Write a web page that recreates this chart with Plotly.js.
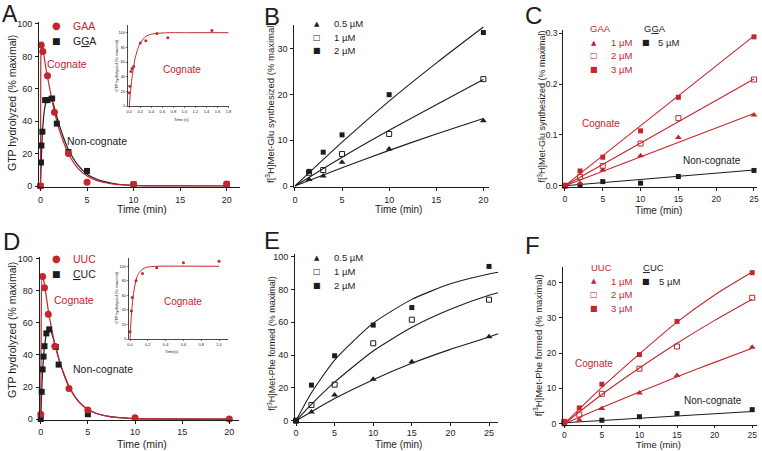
<!DOCTYPE html>
<html><head><meta charset="utf-8">
<script src="https://cdn.plot.ly/plotly-3.0.1.min.js"></script>
<style>html,body{margin:0;padding:0;background:#fff;}#chart{width:762px;height:451px;}</style>
</head><body><div id="chart"></div>
<script>
// ================= DATA =================
// Panel A: GTP hydrolysis, GAA (cognate) vs GGA (non-cognate)
const aT_cog = [0, 0.08, 0.25, 0.75, 1.5, 3, 5, 10, 20];
const aY_cog = [0, 87, 83, 68, 45.5, 20, 2.3, 1, 1.2];
const aT_non = [0, 0.05, 0.1, 0.2, 0.5, 0.75, 1.25, 1.75, 3, 5, 10, 20];
const aY_non = [0, 14.5, 25, 33.5, 53, 53, 54, 38.5, 21, 9.3, 1, 1];
const aFitT_cog = [0, 0.03, 0.08, 0.15, 0.3, 0.6, 1, 1.5, 2, 3, 4, 5, 6, 7, 8, 10, 12, 20];
const aFitY_cog = [0, 70, 87, 88, 83, 72, 60, 46, 35, 20, 11, 6.2, 3.5, 2, 1, 0.3, 0.1, 0];
const aFitT_non = [0, 0.1, 0.2, 0.4, 0.6, 0.8, 1, 1.3, 1.6, 2, 2.5, 3, 4, 5, 6, 7, 8, 10, 12, 20];
const aFitY_non = [0, 18, 32, 46, 52, 54.5, 55, 52, 46, 38, 29.5, 22.5, 13, 7.3, 4.3, 2.5, 1.4, 0.4, 0.1, 0];
// Panel A inset (seconds)
const aiT = [0, 0.01, 0.03, 0.05, 0.08, 0.2, 0.3, 0.5, 0.7, 1.5];
const aiY = [18, 27, 47, 51, 54, 86, 89, 99, 93, 103];
const aiFitT = [0, 0.02, 0.05, 0.1, 0.15, 0.2, 0.3, 0.4, 0.5, 0.7, 1, 1.8];
const aiFitY = [0, 18, 39, 63, 77, 86, 95, 98, 99, 100, 100, 100];

// Panel B: Met-Glu synthesized, non-cognate, concentrations
const bT = [1.5, 3, 5, 10, 20];
const b05 = [1.4, 2.2, 5.2, 8.1, 14.3];
const b1 = [2.9, 3.5, 7.0, 11.4, 23.4];
const b2 = [3.2, 7.4, 11.2, 20, 33.6];
const bFitT = [0, 5, 10, 15, 20];
const b05Fit = [0, 4, 7.8, 11.4, 14.8];
const b1Fit = [0, 6.3, 12.2, 17.8, 23.3];
const b2Fit = [0, 9.6, 18.6, 26.9, 34.8];

// Panel C
const cT = [0, 2, 5, 10, 15, 25];
const c1 = [0, 0.005, 0.031, 0.059, 0.095, 0.139];
const c2 = [0, 0.017, 0.039, 0.083, 0.133, 0.209];
const c3 = [0, 0.029, 0.056, 0.108, 0.174, 0.293];
const cNon = [0, 0.001, 0.008, 0.005, 0.018, 0.030];
const cFitT = [0, 25];
const c1Fit = [0, 0.142];
const c2Fit = [0, 0.210];
const c3Fit = [0, 0.295];
const cNonFit = [0, 0.031];

// Panel D: UUC (cognate) vs CUC (non-cognate)
const dT_cog = [0, 0.2, 0.4, 0.8, 1.5, 3, 5, 10, 20];
const dY_cog = [3, 89, 82, 65.5, 45.5, 19, 5.6, 0.8, 0];
const dT_non = [0, 0.1, 0.2, 0.3, 0.4, 0.6, 0.9, 1.6, 1.9, 5, 10, 20];
const dY_non = [0, 17, 31, 39, 45.5, 53.5, 56, 45, 34, 3, -1.5, -1.5];
const dFitT_cog = [0, 0.05, 0.15, 0.3, 0.5, 0.8, 1.2, 1.6, 2, 2.5, 3, 4, 5, 6, 7, 8, 10, 12, 20];
const dFitY_cog = [0, 60, 89, 87, 80, 68, 55, 44, 36, 27, 20, 11, 6, 3.3, 1.8, 1, 0.3, 0.1, 0];
const dFitT_non = [0, 0.1, 0.2, 0.4, 0.6, 0.8, 1, 1.3, 1.6, 2, 2.5, 3, 4, 5, 6, 8, 10, 20];
const dFitY_non = [0, 17, 30, 45, 53, 56.5, 56, 51, 45, 36, 27.5, 20.5, 11, 6, 3.3, 1, 0.3, 0];
// Panel D inset
const diT = [0, 0.015, 0.026, 0.067, 0.14, 0.3, 0.6, 1.0];
const diY = [10, 38.5, 57, 80, 90, 98, 105, 107];
const diFitT = [0, 0.01, 0.02, 0.04, 0.06, 0.08, 0.1, 0.13, 0.16, 0.2, 0.3, 1.0];
const diFitY = [0, 22, 40, 63, 77, 86, 91, 95, 97.5, 99, 100, 100];

// Panel E: Met-Phe formed, non-cognate
const eT = [0, 2, 5, 10, 15, 25];
const e05 = [0, 5.3, 15.6, 25.2, 36, 51.2];
const e1 = [0, 9.6, 22, 47.2, 61.6, 73.8];
const e2 = [0, 21.7, 39.6, 58.3, 69, 94.1];
const eFitT = [0, 2, 5, 10, 15, 20, 25, 26.2];
const e05Fit = [0, 5.5, 13.5, 25, 35, 43.5, 51, 53];
const e1Fit = [0, 10, 23.5, 42.5, 57, 68, 76.5, 78];
const e2Fit = [0, 17, 37, 59.5, 74, 83.5, 89.5, 90.5];

// Panel F
const fT = [0, 2, 5, 10, 15, 25];
const f1 = [0.5, 1.1, 4.3, 8.75, 13.7, 21.7];
const f2 = [0.5, 2.6, 8.5, 15.6, 21.9, 35.7];
const f3 = [0.7, 4.5, 11.2, 19.6, 29, 42.8];
const fNon = [0, -0.3, 1.0, 2.0, 2.9, 4.0];
const fFitT = [0, 5, 10, 15, 20, 25];
const f1Fit = [0, 4.6, 9, 13.3, 17.4, 21.4];
const f2Fit = [0, 8.3, 15.8, 22.8, 29.3, 35.3];
const f3Fit = [0, 10.3, 19.8, 28.8, 36.5, 43];
const fNonFitT = [0, 25];
const fNonFit = [0.3, 3.5];

// ================= STYLE / LAYOUT =================
const W = 762, H = 451;
const RED = '#c4262e', BLK = '#1e1c1c';
const FONT = 'Liberation Sans, Arial, sans-serif';

const layout = {
  width: W, height: H, margin: {l: 0, r: 0, t: 0, b: 0},
  paper_bgcolor: '#fff', plot_bgcolor: 'rgba(0,0,0,0)',
  showlegend: false, font: {family: FONT, color: BLK},
  annotations: []
};

function addAxes(i, xpx, ypx, xr, yr, xt, yt, small, tfs) {
  const fs = small ? 4 : (tfs || 9);
  const common = {showline: true, linecolor: BLK, linewidth: small ? 0.8 : 1,
    ticks: 'outside', ticklen: small ? 1.5 : 3, tickwidth: small ? 0.6 : 1, tickcolor: BLK,
    showgrid: false, zeroline: false, fixedrange: true,
    tickfont: {family: FONT, size: fs, color: BLK}, mirror: false};
  const k = i === 1 ? '' : String(i);
  layout['xaxis' + k] = Object.assign({}, common, {
    domain: [xpx[0] / W, xpx[1] / W], range: xr, anchor: 'y' + k,
    tickmode: 'array', tickvals: xt.v, ticktext: xt.t, ticklabelstandoff: small ? 0 : 1});
  layout['yaxis' + k] = Object.assign({}, common, {
    domain: [1 - ypx[1] / H, 1 - ypx[0] / H], range: yr, anchor: 'x' + k,
    tickmode: 'array', tickvals: yt.v, ticktext: yt.t, ticklabelstandoff: small ? 0 : 1});
}
function tk(vals, dec) { return {v: vals, t: vals.map(v => dec ? v.toFixed(dec) : String(v))}; }

// main panels
addAxes(1, [39, 240], [21.7, 186.7], [-0.16, 21.43], [-0.43, 101.4], tk([0,5,10,15,20]), tk([0,20,40,60,80,100]));
addAxes(2, [294.3, 489.3], [25, 186.7], [-0.07, 20.63], [-0.15, 35.25], tk([0,5,10,15,20]), tk([0,10,20,30]));
addAxes(3, [563.3, 756.7], [30, 186.5], [-0.22, 25.36], [-0.0016, 0.3065], tk([0,5,10,15,20,25]), tk([0,0.1,0.2,0.3],1), false, 8.5);
addAxes(4, [39.5, 239.3], [257.3, 420], [-0.13, 21.06], [-0.6, 101], tk([0,5,10,15,20]), tk([0,20,40,60,80,100]));
addAxes(5, [295, 498.3], [254.3, 421.5], [-0.13, 26.2], [-0.5, 101.5], tk([0,5,10,15,20,25]), tk([0,20,40,60,80,100]));
addAxes(6, [563, 756.7], [266.7, 424.5], [-0.17, 25.6], [-0.2, 44.5], tk([0,5,10,15,20,25]), tk([0,10,20,30,40]), false, 8.5);
// insets
addAxes(7, [128.3, 229], [25, 106], [-0.018, 1.81], [0, 110.5], tk([0,0.2,0.4,0.6,0.8,1.0,1.2,1.4,1.6,1.8],1), tk([0,20,40,60,80,100]), true);
addAxes(8, [129.3, 228.3], [257.7, 339], [-0.008, 1.104], [0, 111.8], tk([0,0.2,0.4,0.6,0.8,1.0],1), tk([0,20,40,60,80,100]), true);
layout.yaxis3.ticklabelstandoff = 0;
layout.xaxis4.ticklabelstandoff = 0;
layout.xaxis5.ticklabelstandoff = 0;
layout.xaxis6.ticklabelstandoff = 0;
layout.xaxis6.ticklen = 2.5;

// ================= TRACES =================
const traces = [];
function ax(i) { return i === 1 ? {xaxis: 'x', yaxis: 'y'} : {xaxis: 'x' + i, yaxis: 'y' + i}; }
function line(i, x, y, color, w) {
  traces.push(Object.assign({type: 'scatter', mode: 'lines', x, y, cliponaxis: false,
    line: {color, width: w || 1.1, shape: 'spline', smoothing: 0.6}, hoverinfo: 'skip'}, ax(i)));
}
function pts(i, x, y, color, symbol, size) {
  const open = symbol.indexOf('open') >= 0;
  traces.push(Object.assign({type: 'scatter', mode: 'markers', x, y, cliponaxis: false,
    marker: {color, symbol, size, line: {color, width: open ? 1 : 0}}}, ax(i)));
}

// A
line(1, aFitT_non, aFitY_non, BLK, 1.2);
line(1, aFitT_cog, aFitY_cog, RED, 1.2);
pts(1, aT_non, aY_non, BLK, 'square', 6);
pts(1, aT_cog, aY_cog, RED, 'circle', 7);
// A inset
line(7, aiFitT, aiFitY, RED, 1);
pts(7, aiT, aiY, RED, 'circle', 3);
// B
line(2, bFitT, b05Fit, BLK); line(2, bFitT, b1Fit, BLK); line(2, bFitT, b2Fit, BLK);
pts(2, bT, b05, BLK, 'triangle-up', 6);
pts(2, bT, b1, BLK, 'square-open', 5);
pts(2, bT, b2, BLK, 'square', 5);
// C
line(3, cFitT, cNonFit, BLK); line(3, cFitT, c1Fit, RED); line(3, cFitT, c2Fit, RED); line(3, cFitT, c3Fit, RED);
pts(3, cT, cNon, BLK, 'square', 5);
pts(3, cT, c1, RED, 'triangle-up', 6);
pts(3, cT, c2, RED, 'square-open', 5);
pts(3, cT, c3, RED, 'square', 5);
// D
line(4, dFitT_non, dFitY_non, BLK, 1.2);
line(4, dFitT_cog, dFitY_cog, RED, 1.2);
pts(4, dT_non, dY_non, BLK, 'square', 6);
pts(4, dT_cog, dY_cog, RED, 'circle', 7);
// D inset
line(8, diFitT, diFitY, RED, 1);
pts(8, diT, diY, RED, 'circle', 3);
// E
line(5, eFitT, e05Fit, BLK); line(5, eFitT, e1Fit, BLK); line(5, eFitT, e2Fit, BLK);
pts(5, eT, e05, BLK, 'triangle-up', 6);
pts(5, eT, e1, BLK, 'square-open', 5);
pts(5, eT, e2, BLK, 'square', 5);
// F
line(6, fNonFitT, fNonFit, BLK); line(6, fFitT, f1Fit, RED); line(6, fFitT, f2Fit, RED); line(6, fFitT, f3Fit, RED);
pts(6, fT, fNon, BLK, 'square', 5);
pts(6, fT, f1, RED, 'triangle-up', 6);
pts(6, fT, f2, RED, 'square-open', 5);
pts(6, fT, f3, RED, 'square', 5);

// ================= ANNOTATIONS =================
function ann(text, px, py, o) {
  o = o || {};
  layout.annotations.push({text, x: px / W, y: 1 - py / H, xref: 'paper', yref: 'paper',
    xanchor: o.xa || 'center', yanchor: o.ya || 'middle', showarrow: false,
    textangle: o.rot || 0,
    font: {family: o.family || FONT, size: o.size || 10, color: o.color || BLK}});
}
// panel letters
ann('A', 0, -1, {xa: 'left', ya: 'top', size: 23});
ann('B', 262, 1, {xa: 'left', ya: 'top', size: 24});
ann('C', 523, 0, {xa: 'left', ya: 'top', size: 24});
ann('D', 1, 226, {xa: 'left', ya: 'top', size: 24});
ann('E', 262, 225, {xa: 'left', ya: 'top', size: 24});
ann('F', 523, 230, {xa: 'left', ya: 'top', size: 24});

// axis titles
const gtp = 'GTP hydrolyzed (% maximal)';
const tmin = 'Time (min)';
ann(gtp, 12, 103, {rot: -90, size: 10.5});
ann(tmin, 142, 208.5, {size: 10.5});
ann('f[<sup>3</sup>H]Met-Glu synthesized (% maximal)', 270, 103, {rot: -90, size: 9.5});
ann(tmin, 398, 210, {size: 10});
ann('f[<sup>3</sup>H]Met-Glu synthesized (% maximal)', 541.5, 107, {rot: -90, size: 9});
ann(tmin, 658, 210.5, {size: 10});
ann(gtp, 12, 330, {rot: -90, size: 10.5});
ann(tmin, 142, 443.5, {size: 10.5});
ann('f[<sup>3</sup>H]Met-Phe formed (% maximal)', 271.7, 343, {rot: -90, size: 9});
ann(tmin, 398.3, 444, {size: 10});
ann('f[<sup>3</sup>H]Met-Phe formed (% maximal)', 538.3, 345, {rot: -90, size: 9.5});
ann(tmin, 658, 444.5, {size: 9.5});
// inset titles
ann(gtp, 116, 66, {rot: -90, size: 4});
ann('Time (s)', 181, 119, {size: 4});
ann(gtp, 116, 298, {rot: -90, size: 4});
ann('Time(s)', 172, 351, {size: 4});

// legends (glyph + label)
const SYM = 'DejaVu Sans, sans-serif';
// A
ann('●', 56, 26, {size: 10, color: RED, family: SYM});
ann('GAA', 71, 26, {xa: 'left', size: 10.5, color: RED});
ann('■', 56, 41, {size: 9, color: BLK, family: SYM});
ann('G<u>G</u>A', 71, 41, {xa: 'left', size: 10.5});
// B
ann('▲', 316.7, 23.5, {size: 7, family: SYM});
ann('0.5 µM', 332, 23.5, {xa: 'left', size: 9.5});
ann('□', 316.7, 37.3, {size: 8, family: SYM});
ann('1 µM', 332, 37.3, {xa: 'left', size: 9.5});
ann('■', 316.7, 50.7, {size: 8, family: SYM});
ann('2 µM', 332, 50.7, {xa: 'left', size: 9.5});
// C
ann('GAA', 588, 28.5, {xa: 'left', size: 9.5, color: RED});
ann('G<u>G</u>A', 642, 28.5, {xa: 'left', size: 9.5});
ann('▲', 594, 42.7, {size: 7, color: RED, family: SYM});
ann('1 µM', 609, 42.7, {xa: 'left', size: 9.5, color: RED});
ann('□', 594, 56, {size: 8, color: RED, family: SYM});
ann('2 µM', 609, 56, {xa: 'left', size: 9.5, color: RED});
ann('■', 594, 69.3, {size: 8, color: RED, family: SYM});
ann('3 µM', 609, 69.3, {xa: 'left', size: 9.5, color: RED});
ann('■', 645.7, 42.7, {size: 8, family: SYM});
ann('5 µM', 656, 42.7, {xa: 'left', size: 9.5});
// D
ann('●', 56.7, 258.5, {size: 10, color: RED, family: SYM});
ann('UUC', 71, 258.5, {xa: 'left', size: 10.5, color: RED});
ann('■', 56.7, 273.5, {size: 9, family: SYM});
ann('<u>C</u>UC', 71, 273.5, {xa: 'left', size: 10.5});
// E
ann('▲', 316.7, 257.5, {size: 7, family: SYM});
ann('0.5 µM', 332, 257.5, {xa: 'left', size: 9.5});
ann('□', 316.7, 271.3, {size: 8, family: SYM});
ann('1 µM', 332, 271.3, {xa: 'left', size: 9.5});
ann('■', 316.7, 285.7, {size: 8, family: SYM});
ann('2 µM', 332, 285.7, {xa: 'left', size: 9.5});
// F
ann('UUC', 589, 267, {xa: 'left', size: 9.5, color: RED});
ann('<u>C</u>UC', 641, 267, {xa: 'left', size: 9.5});
ann('▲', 594, 281, {size: 7, color: RED, family: SYM});
ann('1 µM', 609, 281, {xa: 'left', size: 9.5, color: RED});
ann('□', 594, 294.3, {size: 8, color: RED, family: SYM});
ann('2 µM', 609, 294.3, {xa: 'left', size: 9.5, color: RED});
ann('■', 594, 308.3, {size: 8, color: RED, family: SYM});
ann('3 µM', 609, 308.3, {xa: 'left', size: 9.5, color: RED});
ann('■', 645.7, 281, {size: 8, family: SYM});
ann('5 µM', 657, 281, {xa: 'left', size: 9.5});

// Cognate / Non-cognate labels
ann('Cognate', 66.5, 64, {size: 10.5, color: RED});
ann('Non-cognate', 97, 141, {size: 10.5});
ann('Cognate', 181.5, 69.5, {size: 10, color: RED});
ann('Cognate', 601, 124, {size: 10, color: RED});
ann('Non-cognate', 712, 160, {size: 10});
ann('Cognate', 73.5, 300, {size: 10.5, color: RED});
ann('Non-cognate', 103, 369, {size: 10.5});
ann('Cognate', 182.5, 301, {size: 10, color: RED});
ann('Cognate', 593.5, 363, {size: 10, color: RED});
ann('Non-cognate', 713, 400, {size: 10});

Plotly.newPlot('chart', traces, layout, {staticPlot: true, displayModeBar: false});
</script></body></html>
